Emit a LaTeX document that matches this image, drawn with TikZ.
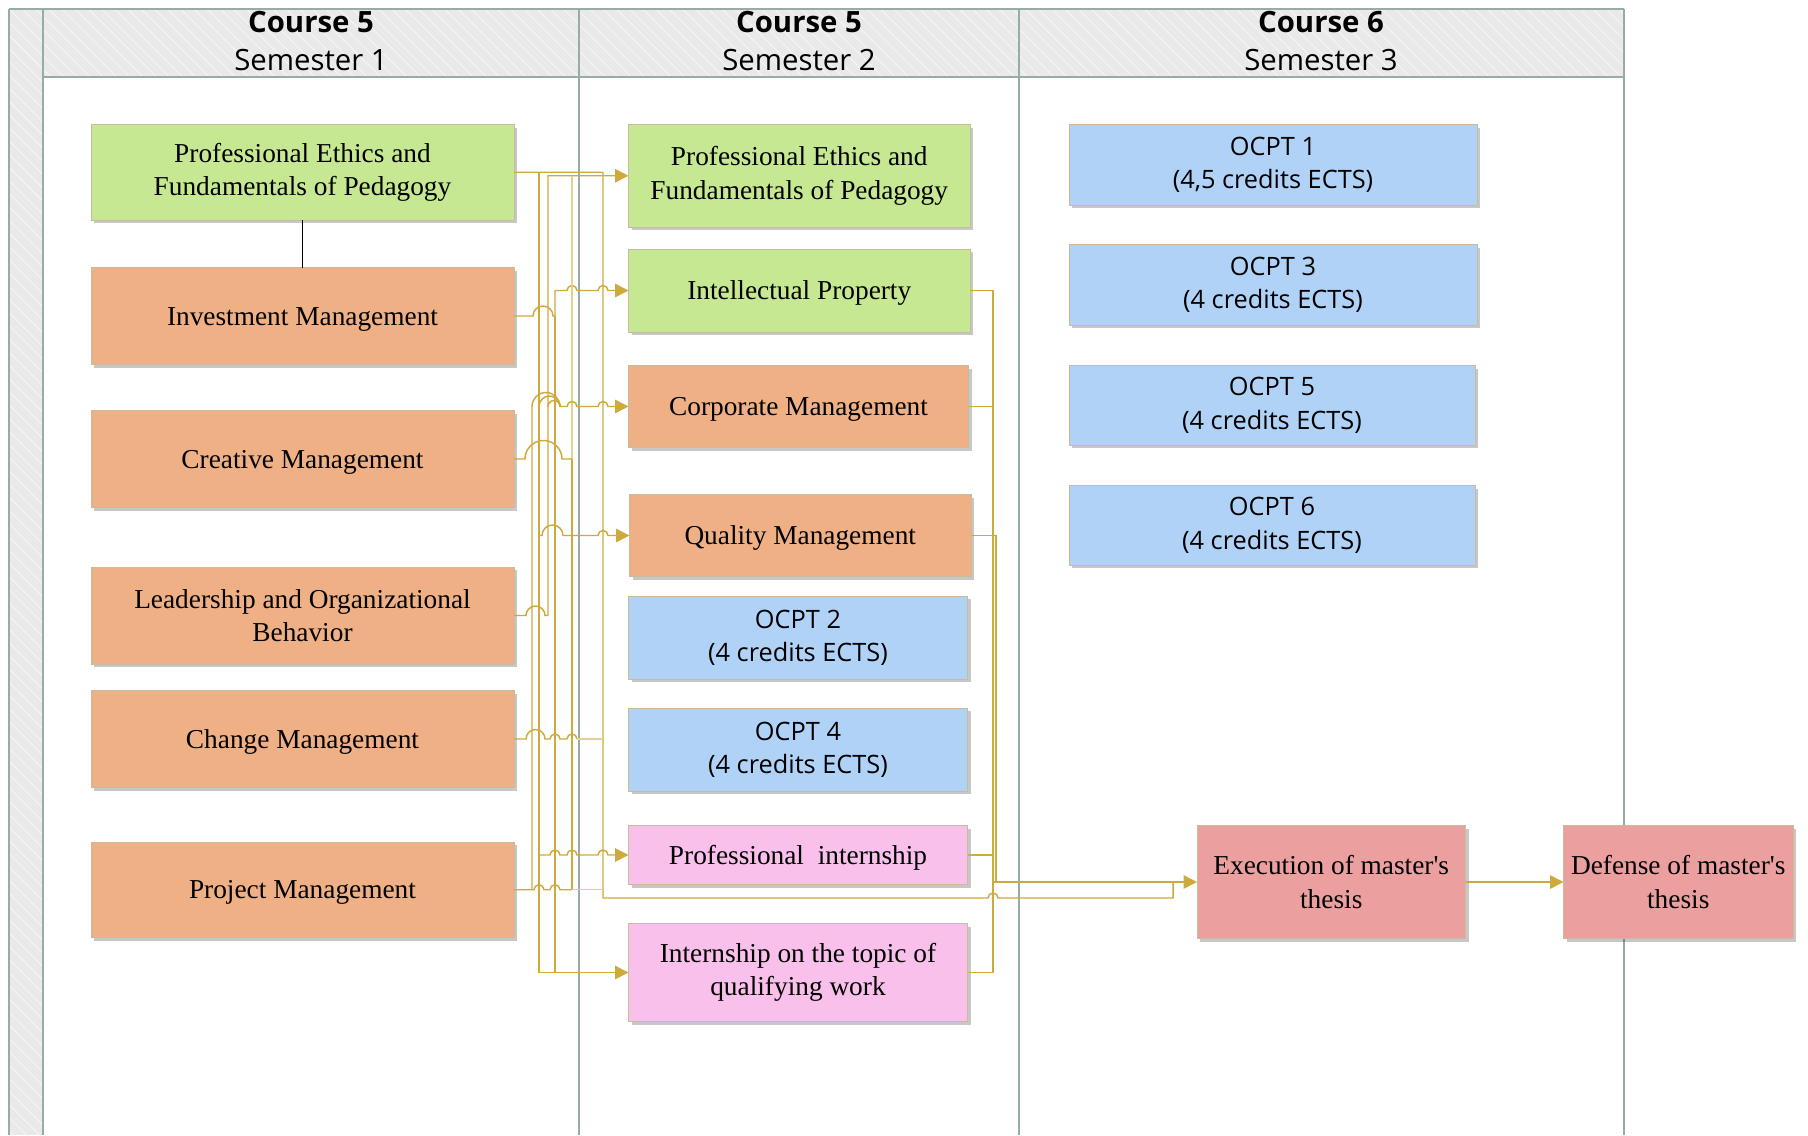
\documentclass[tikz,border=0pt]{standalone}
\usepackage{fontspec}
\setmainfont{Liberation Serif}[Ligatures=TeXOff]
\newfontfamily\sansf{Open Sans}
\usetikzlibrary{arrows.meta,shadows,patterns.meta}
\definecolor{gold}{RGB}{205,170,60}
\definecolor{lanec}{RGB}{150,172,166}
\definecolor{hdr}{RGB}{233,233,233}
\definecolor{cgreen}{RGB}{198,232,146}
\definecolor{corange}{RGB}{240,176,134}
\definecolor{cblue}{RGB}{176,210,246}
\definecolor{cpink}{RGB}{248,192,234}
\definecolor{cred}{RGB}{236,159,159}
\definecolor{bord}{RGB}{200,188,155}
\newcommand\mybox[7]{%
  \node[#2, minimum width={(#5-#3)*0.75pt}, minimum height={(#6-#4)*0.75pt}] (#1) at ({(#3+#5)/2},{-(#4+#6)/2}) {#7};}
\tikzset{
  cbox/.style={draw=bord, line width=0.6pt, inner sep=0pt, outer sep=0pt, align=center,
    drop shadow={shadow xshift=2.5pt, shadow yshift=-2.5pt, opacity=0.22, fill=black}},
  ser/.style={cbox, font=\fontsize{20.5}{25}\selectfont, execute at begin node={\rule{0pt}{18pt}}},
  sans/.style={cbox, font=\sansf\fontsize{19}{25}\selectfont},
  hdrtext/.style={align=center, inner sep=0pt, font=\sansf\fontsize{22}{28.5}\selectfont},
  lanel/.style={draw=lanec, line width=1.1pt},
  conn/.style={draw=gold, line width=1.1pt},
  lite/.style={draw=gold!55, line width=1.1pt},
  arr/.style={-{Triangle[length=10pt,width=10pt]}}
}
\begin{document}
\begin{tikzpicture}[x=0.75pt,y=0.75pt]
\useasboundingbox (0,0) rectangle (1808,-1135);
% frame
\fill[hdr] (9,-9) rectangle (43,-1135);
\fill[hdr] (43,-9) rectangle (1624,-77);
\path[pattern={Lines[angle=-45,distance=7pt,line width=0.8pt]}, pattern color=white!55!hdr] (9,-9) rectangle (43,-1135);
\path[pattern={Lines[angle=-45,distance=7pt,line width=0.8pt]}, pattern color=white!55!hdr] (43,-9) rectangle (1624,-77);
\draw[lanel] (9,-9) -- (1624,-9);
\draw[lanel] (9,-9) -- (9,-1135);
\draw[lanel] (43,-9) -- (43,-1135);
\draw[lanel] (579,-9) -- (579,-1135);
\draw[lanel] (1019,-9) -- (1019,-1135);
\draw[lanel] (1624,-9) -- (1624,-1135);
\draw[lanel] (43,-77) -- (1624,-77);
% headers
\node[hdrtext] (h1) at (311,-41) {\textbf{Course 5}\\Semester 1};
\node[hdrtext] (h2) at (799,-41) {\textbf{Course 5}\\Semester 2};
\node[hdrtext] (h3) at (1321,-41) {\textbf{Course 6}\\Semester 3};
% column 1
\mybox{pe1}{ser,fill=cgreen}{91}{124.5}{514}{220}{Professional Ethics and\\Fundamentals of Pedagogy}
\mybox{inv}{ser,fill=corange}{91}{267.5}{514}{364.5}{Investment Management}
\mybox{cre}{ser,fill=corange}{91}{410.5}{514}{507.5}{Creative Management}
\mybox{lead}{ser,fill=corange}{91}{567}{514}{664}{Leadership and Organizational\\Behavior}
\mybox{chg}{ser,fill=corange}{91}{690.5}{514}{787.5}{Change Management}
\mybox{proj}{ser,fill=corange}{91}{842}{514}{937.5}{Project Management}
% column 2
\mybox{pe2}{ser,fill=cgreen}{628.5}{124.5}{970}{227}{Professional Ethics and\\Fundamentals of Pedagogy}
\mybox{ip}{ser,fill=cgreen}{628.5}{249}{970}{332}{Intellectual Property}
\mybox{corp}{ser,fill=corange}{628.5}{365.5}{968.5}{447.5}{Corporate Management}
\mybox{qual}{ser,fill=corange}{629.5}{494.5}{971}{576.5}{Quality Management}
\mybox{o2}{sans,fill=cblue}{628.5}{596}{967.5}{679}{OCPT 2\\(4 credits ECTS)}
\mybox{o4}{sans,fill=cblue}{628.5}{708}{967.5}{791}{OCPT 4\\(4 credits ECTS)}
\mybox{pint}{ser,fill=cpink}{628.5}{825.5}{967.5}{884.5}{Professional\ \ internship}
\mybox{ito}{ser,fill=cpink}{628.5}{923.5}{967.5}{1021.5}{Internship on the topic of\\qualifying work}
% column 3
\mybox{o1}{sans,fill=cblue}{1069}{124.5}{1477}{205}{OCPT 1\\(4,5 credits ECTS)}
\mybox{o3}{sans,fill=cblue}{1069}{244.5}{1477}{325}{OCPT 3\\(4 credits ECTS)}
\mybox{o5}{sans,fill=cblue}{1069}{365.5}{1475}{445}{OCPT 5\\(4 credits ECTS)}
\mybox{o6}{sans,fill=cblue}{1069}{485.5}{1475}{565}{OCPT 6\\(4 credits ECTS)}
\mybox{exec}{ser,fill=cred}{1197}{825.5}{1465.5}{938.5}{Execution of master's\\thesis}
\mybox{def}{ser,fill=cred}{1563.5}{825.5}{1793}{938.5}{Defense of master's\\thesis}
% black link
\draw[black, line width=1pt] (pe1.south) -- (inv.north);
% connectors
\draw[conn] (pe1.east) -| (603,-898) -- (988,-898) arc[start angle=180,end angle=0,radius=5] -- (1173,-898) -- (1173,-882);
\draw[conn,arr] (539,-172.25) -- (539,-972.5) -- (ito.west);
\draw[conn,arr] (lead.east) -- (526,-615.5) arc[start angle=180,end angle=0,radius=9.5] -- (548,-615.5) -- (548,-175.75) -- (pe2.west);
\draw[conn,arr] (inv.east) -- (533,-316) arc[start angle=180,end angle=0,radius=10] -- (555,-316) -- (555,-290.5) -- (567,-290.5) arc[start angle=180,end angle=0,radius=5] -- (598,-290.5) arc[start angle=180,end angle=0,radius=5] -- (ip.west);
\draw[conn] (555,-316) -- (555,-972.5);
\draw[lite] (572,-175.75) -- (572,-459);
\draw[conn] (572,-459) -- (572,-889.75);
\draw[conn] (cre.east) -- (525,-459) arc[start angle=180,end angle=0,radius=18.5] -- (572,-459);
\draw[conn,arr] (proj.east) -- (532,-889.75) -- (532,-406.5) arc[start angle=180,end angle=0,radius=14] -- (567,-406.5) arc[start angle=180,end angle=0,radius=5] -- (598,-406.5) arc[start angle=180,end angle=0,radius=5] -- (corp.west);
\draw[conn] (539,-406.5) arc[start angle=180,end angle=0,radius=10.5];
\draw[conn] (548,-406.5) arc[start angle=180,end angle=0,radius=6];
\draw[conn] (532,-889.75) -- (534,-889.75) arc[start angle=180,end angle=0,radius=5] -- (550,-889.75) arc[start angle=180,end angle=0,radius=5] -- (572,-889.75);
\draw[lite] (572,-889.75) -- (603,-889.75);
\draw[conn,arr] (539,-535.5) -- (542,-535.5) arc[start angle=180,end angle=0,radius=10.5] -- (598,-535.5) arc[start angle=180,end angle=0,radius=5] -- (qual.west);
\draw[conn] (chg.east) -- (526,-739) arc[start angle=180,end angle=0,radius=9.5] -- (550,-739) arc[start angle=180,end angle=0,radius=5] -- (567,-739) arc[start angle=180,end angle=0,radius=5];
\draw[lite] (577,-739) -- (603,-739);
\draw[conn,arr] (539,-855) -- (550,-855) arc[start angle=180,end angle=0,radius=5] -- (567,-855) arc[start angle=180,end angle=0,radius=5] -- (598,-855) arc[start angle=180,end angle=0,radius=5] -- (pint.west);
\draw[conn] (ip.east) -| (993,-972.5) -- (ito.east);
\draw[conn] (corp.east) -- (993,-406.5);
\draw[conn] (qual.east) -| (996,-882);
\draw[conn] (pint.east) -- (993,-855);
\draw[conn,arr] (993,-882) -- (exec.west);
\draw[conn,arr] (exec.east) -- (def.west);
\end{tikzpicture}
\end{document}
